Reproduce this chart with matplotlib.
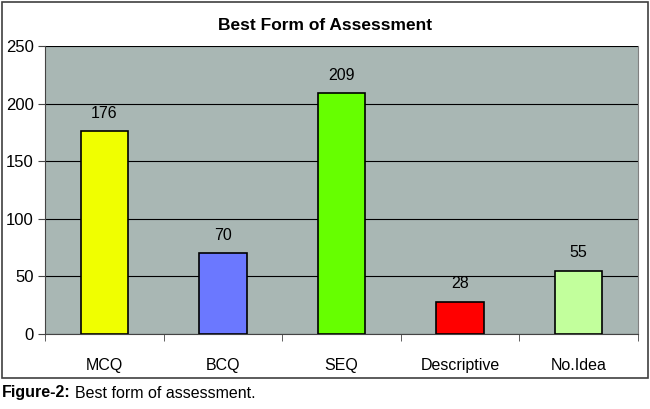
import matplotlib
matplotlib.use("Agg")
import matplotlib.pyplot as plt
from matplotlib.patches import Rectangle

categories = ["MCQ", "BCQ", "SEQ", "Descriptive", "No.Idea"]
values = [176, 70, 209, 28, 55]
colors = ["#F0FF00", "#6B78FF", "#66FF00", "#FF0000", "#C2FF9C"]
yticks = [0, 50, 100, 150, 200, 250]

plt.rcParams['font.family'] = ['Liberation Sans', 'DejaVu Sans']

W, H = 650, 409
fig = plt.figure(figsize=(W/100, H/100), dpi=100)
fig.patch.set_facecolor("white")

# outer frame
fig.patches.append(Rectangle((1.5/W, 1 - 377.5/H), 646/W, 376/H, transform=fig.transFigure,
                             fill=False, edgecolor="#404040", linewidth=1.2))

ax = fig.add_axes([45/W, 1 - 334/H, (638-45)/W, (334-46)/H])
ax.set_facecolor("#A9B7B4")
x = range(len(categories))
ax.bar(x, values, width=0.4, color=colors, edgecolor="black", linewidth=1.2, zorder=3)
for xi, v in zip(x, values):
    ax.text(xi, v + 9, str(v), ha="center", va="bottom", fontsize=11.5, zorder=4)

ax.set_xlim(-0.5, len(categories) - 0.5)
ax.set_ylim(0, 250)
ax.set_yticks(yticks)
ax.set_yticklabels([str(t) for t in yticks], fontsize=12)
ax.yaxis.grid(True, color="black", linewidth=0.8, zorder=1)
ax.set_axisbelow(True)
ax.set_xticks([i for i in x])
ax.set_xticklabels(categories, fontsize=11.5)
ax.tick_params(axis="x", length=0, pad=17)
ax.set_xticks([i - 0.5 for i in range(len(categories) + 1)], minor=True)
ax.tick_params(axis="x", which="minor", length=5, direction="out", color="#444444")
ax.tick_params(axis="y", length=5, direction="out", color="#444444", pad=3)
ax.spines["top"].set_visible(False)
ax.spines["right"].set_color("#808080")
ax.spines["left"].set_color("#444444")
ax.spines["bottom"].set_color("#444444")

fig.text(325/W, 1 - 25/H, "Best Form of Assessment", ha="center", va="center",
         fontsize=12.5, fontweight="bold")

t1 = fig.text(2/W, 1 - 393/H, "Figure-2:", ha="left", va="center", fontsize=11.5, fontweight="bold")
fig.canvas.draw()
bb = t1.get_window_extent(renderer=fig.canvas.get_renderer())
fig.text((bb.x1 + 4)/W, 1 - 393/H, "Best form of assessment.", ha="left", va="center", fontsize=11.5)

fig.savefig("out.png", dpi=100)
